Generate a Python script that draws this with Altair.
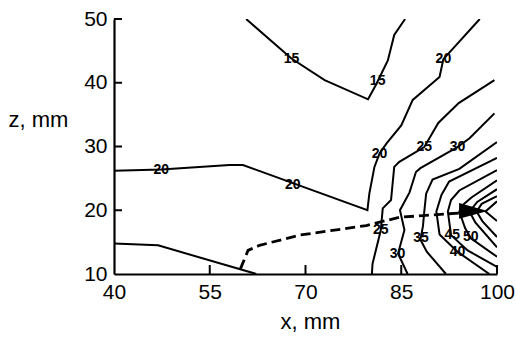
import altair as alt
import pandas as pd

# Contour lines of the measured field (x, z in mm), one pair of arrays per line
c15_x = [60.7, 67.8, 73.0, 79.8, 81.0, 82.9, 83.9, 85.6]
c15_z = [50.0, 43.8, 40.4, 37.4, 39.6, 43.5, 47.5, 50.0]

c20_x = [40.0, 47.4, 58.1, 60.2, 79.7, 80.0, 80.8, 81.6, 82.7, 85.0, 86.8, 91.0, 91.6, 97.3]
c20_z = [26.2, 26.4, 27.1, 27.1, 20.0, 22.6, 26.8, 28.9, 30.5, 33.3, 37.3, 40.9, 43.7, 50.0]

c25w_x = [40.0, 46.9, 62.3]
c25w_z = [14.8, 14.5, 10.0]

c25_x = [80.4, 80.5, 81.8, 82.1, 83.4, 83.9, 84.7, 88.6, 90.8, 94.0, 99.6]
c25_z = [10.0, 11.6, 16.9, 20.3, 21.6, 26.8, 27.6, 29.9, 33.7, 36.8, 40.4]

c30_x = [86.0, 84.5, 85.5, 84.8, 86.3, 87.3, 88.0, 93.8, 95.7, 99.6]
c30_z = [10.0, 13.2, 16.9, 20.0, 22.8, 26.0, 26.6, 29.9, 31.3, 35.2]

c35_x = [92.0, 89.0, 88.0, 88.4, 88.6, 88.9, 89.9, 94.1, 100.0]
c35_z = [10.0, 13.5, 15.4, 17.5, 19.7, 22.6, 24.8, 26.5, 30.7]

c40_x = [98.8, 93.8, 91.0, 90.5, 91.3, 92.5, 100.0]
c40_z = [10.0, 13.5, 16.2, 19.8, 22.4, 24.5, 28.2]

c45_x = [100.0, 95.4, 92.8, 92.3, 92.8, 94.1, 100.0]
c45_z = [11.1, 13.7, 16.1, 19.8, 21.6, 23.1, 26.3]

c50_x = [100.0, 95.9, 95.0, 94.1, 94.6, 96.0, 100.0]
c50_z = [12.7, 15.6, 17.2, 19.8, 20.8, 22.0, 24.7]

c55_x = [100.0, 96.6, 95.7, 96.9, 100.0]
c55_z = [14.2, 18.1, 19.8, 21.3, 23.3]

c60_x = [100.0, 97.7, 96.8, 97.6, 100.0]
c60_z = [15.8, 18.3, 19.8, 21.0, 22.2]

c65_x = [100.0, 98.2, 100.0]
c65_z = [18.3, 19.8, 21.4]

# Dashed trajectory ending in an arrow
path_x = [59.8, 61.0, 62.8, 69.1, 79.5, 84.7, 94.6]
path_z = [10.8, 13.7, 14.5, 16.1, 17.6, 18.9, 19.6]
arrow_x = [96.3]
arrow_z = [19.9]

# In-line contour labels
lab_text = ["15", "15", "20", "20", "20", "20", "25", "25", "30", "30", "35", "40", "45", "50"]
lab_x = [67.8, 81.3, 47.4, 68.0, 81.6, 91.6, 88.6, 81.8, 93.8, 84.4, 88.1, 93.8, 93.0, 95.9]
lab_z = [43.8, 40.2, 26.3, 23.9, 28.9, 43.7, 29.9, 16.9, 29.9, 13.2, 15.6, 13.5, 16.1, 15.8]

# Axis ticks
x_ticks = [40, 55, 70, 85, 100]
z_ticks = [10, 20, 30, 40, 50]

contours = {
    "15": (c15_x, c15_z), "20": (c20_x, c20_z), "25w": (c25w_x, c25w_z),
    "25": (c25_x, c25_z), "30": (c30_x, c30_z), "35": (c35_x, c35_z),
    "40": (c40_x, c40_z), "45": (c45_x, c45_z), "50": (c50_x, c50_z),
    "55": (c55_x, c55_z), "60": (c60_x, c60_z), "65": (c65_x, c65_z),
}
rows = []
for name, (xs, zs) in contours.items():
    for i, (xv, zv) in enumerate(zip(xs, zs)):
        rows.append({"line": name, "i": i, "x": xv, "z": zv})
contour_df = pd.DataFrame(rows)
path_df = pd.DataFrame({"x": path_x, "z": path_z, "i": range(len(path_x))})
arrow_df = pd.DataFrame({"x": arrow_x, "z": arrow_z})
label_df = pd.DataFrame({"x": lab_x, "z": lab_z, "t": lab_text})
xtick_df = pd.DataFrame({"x": x_ticks[1:]})
ztick_df = pd.DataFrame({"z": z_ticks[1:]})

FONT = "Liberation Sans"
W, H = 383, 255

x_scale = alt.Scale(domain=[40, 100], nice=False, zero=False)
z_scale = alt.Scale(domain=[10, 50], nice=False, zero=False)

x_axis = alt.Axis(
    values=x_ticks, title="x, mm", tickSize=0, grid=False, labelFlush=False,
    domainColor="black", domainWidth=2.2, labelColor="black", labelFont=FONT,
    labelFontSize=21, labelPadding=7, titleFont=FONT, titleFontSize=22,
    titleFontWeight="normal", titleColor="black", titleX=196, titleY=54,
    titleBaseline="alphabetic", titleAlign="center",
)
z_axis = alt.Axis(
    values=z_ticks, title="z, mm", tickSize=0, grid=False, labelFlush=False,
    domainColor="black", domainWidth=2.2, labelColor="black", labelFont=FONT,
    labelFontSize=21, labelPadding=7, titleFont=FONT, titleFontSize=22,
    titleFontWeight="normal", titleColor="black", titleAngle=0,
    titleAlign="left", titleBaseline="alphabetic", titleX=-106, titleY=107,
)

X = alt.X("x:Q", scale=x_scale, axis=x_axis)
Z = alt.Y("z:Q", scale=z_scale, axis=z_axis)

lines = alt.Chart(contour_df).mark_line(color="black", strokeWidth=2, clip=True).encode(
    x=X, y=Z, detail="line:N", order="i:Q"
)

path = alt.Chart(path_df).mark_line(
    color="black", strokeWidth=2.8, strokeDash=[10, 5], clip=True
).encode(x=X, y=Z, order="i:Q")

arrow = alt.Chart(arrow_df).mark_point(
    shape="M -1 -0.55 L 1 0 L -1 0.55 Z", filled=True, color="black",
    opacity=1, size=820, strokeWidth=0,
).encode(x=X, y=Z)

labels = alt.Chart(label_df).mark_text(
    font=FONT, fontSize=14, fontWeight="bold", color="black",
    align="center", baseline="middle"
).encode(x=X, y=Z, text="t:N")

xticks = alt.Chart(xtick_df).mark_rule(color="black", strokeWidth=2).encode(
    x=X, y=alt.value(H), y2=alt.value(H - 9)
)
zticks = alt.Chart(ztick_df).mark_rule(color="black", strokeWidth=2).encode(
    y=Z, x=alt.value(0), x2=alt.value(8)
)

chart = (
    alt.layer(lines, path, arrow, labels, xticks, zticks)
    .properties(
        width=W, height=H,
        autosize=alt.AutoSizeParams(type="none"),
        padding={"left": 114, "top": 19, "right": 20, "bottom": 64},
        background="white",
    )
    .configure_view(stroke=None)
)

chart.save("out.html", embed_options={"renderer": "svg", "actions": False})
